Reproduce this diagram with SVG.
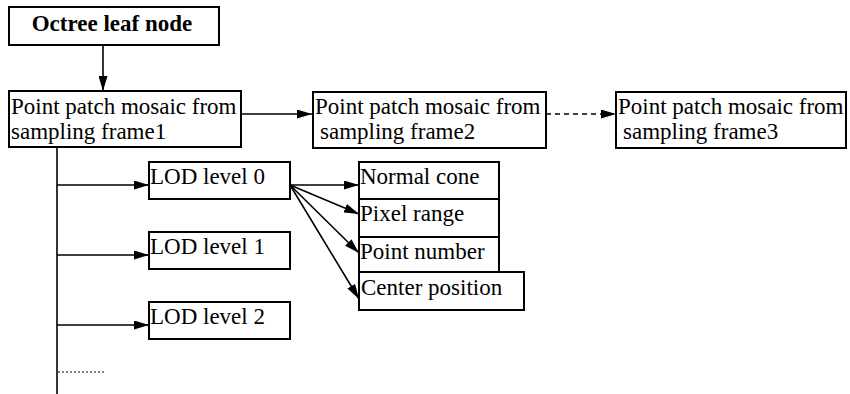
<svg xmlns="http://www.w3.org/2000/svg" width="850" height="394" viewBox="0 0 850 394">
  <style>
    .box { fill: #fff; stroke: #000; stroke-width: 2; }
    .lbl { font-family: "Liberation Serif", "Times New Roman", serif; font-size: 23px; fill: #000; }
    .bold { font-weight: bold; }
    .edge { fill: none; stroke: #000; stroke-width: 1.6; }
    .dash { stroke-dasharray: 5 4; stroke-width: 1.3; }
    .dot { stroke-dasharray: 2 2; stroke-width: 1.2; }
  </style>
  <defs>
    <!-- slender filled arrowhead used by all connectors -->
    <marker id="arrowL" viewBox="0 0 15 9" refX="15" refY="4.5" markerWidth="15" markerHeight="9" markerUnits="userSpaceOnUse" orient="auto">
      <path d="M0,0 L15,4.5 L0,9 z" fill="#000"/>
    </marker>
  </defs>

  <g id="connectors">
    <!-- leaf node to first mosaic -->
    <line class="edge" x1="103" y1="45" x2="103" y2="91" marker-end="url(#arrowL)"/>
    <!-- mosaic chain -->
    <line class="edge" x1="241" y1="114" x2="312" y2="114" marker-end="url(#arrowL)"/>
    <line class="edge dash" x1="546" y1="114" x2="616" y2="114" marker-end="url(#arrowL)"/>
    <!-- LOD trunk and branches -->
    <line class="edge" x1="57" y1="147" x2="57" y2="394" stroke-width="2"/>
    <line class="edge" x1="57" y1="185" x2="149" y2="185" marker-end="url(#arrowL)"/>
    <line class="edge" x1="57" y1="255" x2="149" y2="255" marker-end="url(#arrowL)"/>
    <line class="edge" x1="57" y1="325" x2="149" y2="325" marker-end="url(#arrowL)"/>
    <line class="edge dot" x1="58" y1="372" x2="104" y2="372"/>
    <!-- LOD level 0 attributes -->
    <line class="edge" x1="290" y1="185" x2="359" y2="185" marker-end="url(#arrowL)"/>
    <line class="edge" x1="290" y1="185" x2="359" y2="214" marker-end="url(#arrowL)"/>
    <line class="edge" x1="290" y1="185" x2="359" y2="253" marker-end="url(#arrowL)"/>
    <line class="edge" x1="290" y1="185" x2="359" y2="299" marker-end="url(#arrowL)"/>
  </g>

  <g id="octree-leaf">
    <rect class="box" x="9" y="7" width="210" height="38"/>
    <text class="lbl bold" x="112" y="31" text-anchor="middle">Octree leaf node</text>
  </g>

  <g id="mosaic-1">
    <rect class="box" x="9" y="91" width="232" height="56"/>
    <text class="lbl" x="11" y="114">Point patch mosaic from</text>
    <text class="lbl" x="11" y="139">sampling frame1</text>
  </g>

  <g id="mosaic-2">
    <rect class="box" x="313" y="92" width="233" height="56"/>
    <text class="lbl" x="315" y="114">Point patch mosaic from</text>
    <text class="lbl" x="320" y="139">sampling frame2</text>
  </g>

  <g id="mosaic-3">
    <rect class="box" x="616" y="92" width="230" height="56"/>
    <text class="lbl" x="618" y="114">Point patch mosaic from</text>
    <text class="lbl" x="623" y="139">sampling frame3</text>
  </g>

  <g id="lod-0">
    <rect class="box" x="149" y="162" width="141" height="37"/>
    <text class="lbl" x="150" y="184">LOD level 0</text>
  </g>
  <g id="lod-1">
    <rect class="box" x="149" y="232" width="141" height="37"/>
    <text class="lbl" x="150" y="254">LOD level 1</text>
  </g>
  <g id="lod-2">
    <rect class="box" x="149" y="302" width="141" height="37"/>
    <text class="lbl" x="150" y="324">LOD level 2</text>
  </g>

  <g id="normal-cone">
    <rect class="box" x="359" y="162" width="140" height="37"/>
    <text class="lbl" x="360" y="184">Normal cone</text>
  </g>
  <g id="pixel-range">
    <rect class="box" x="359" y="199" width="140" height="38"/>
    <text class="lbl" x="360" y="221">Pixel range</text>
  </g>
  <g id="point-number">
    <rect class="box" x="359" y="237" width="140" height="35"/>
    <text class="lbl" x="360" y="259">Point number</text>
  </g>
  <g id="center-position">
    <rect class="box" x="359" y="272" width="165" height="38"/>
    <text class="lbl" x="361" y="295">Center position</text>
  </g>
</svg>
